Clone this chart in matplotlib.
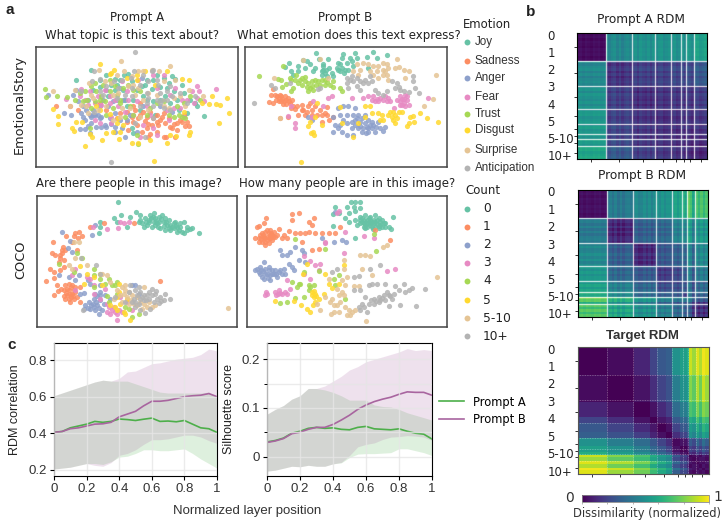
import numpy as np
import matplotlib
matplotlib.use("Agg")
import matplotlib.pyplot as plt

W, H = 727, 527
SET2 = ["#66c2a5", "#fc8d62", "#8da0cb", "#e78ac3", "#a6d854", "#ffd92f", "#e5c494", "#b3b3b3"]
emotions = ["Joy", "Sadness", "Anger", "Fear", "Trust", "Disgust", "Surprise", "Anticipation"]
counts = ["0", "1", "2", "3", "4", "5", "5-10", "10+"]

# embedding coordinates, one list per class
story_a = [
    [(274,212),(228,241),(320,225),(345,238),(372,225),(384,222),(352,255),(368,270),(300,262),(280,270),(425,258),(440,240),(470,225),(490,235),(515,228),(525,238),(505,250),(480,262),(455,268),(520,275),(550,280),(570,300),(590,320),(610,347),(560,340),(535,330),(430,290),(400,300),(460,305),(375,300),(510,310),(495,290),(345,270),(420,330),(395,385),(400,400),(465,345),(335,255),(360,240),(395,245),(410,270),(435,255),(460,240),(500,265),(530,300),(545,255),(585,310),(480,300),(440,300),(380,320),(325,290),(300,240)],
    [(170,318),(212,320),(380,335),(405,330),(430,335),(450,335),(470,345),(490,340),(395,350),(415,355),(435,362),(455,375),(480,360),(495,370),(510,380),(530,370),(545,365),(560,365),(530,390),(515,385),(440,385),(425,395),(410,375),(470,395),(490,410),(450,402),(380,365),(360,340),(420,310),(320,330),(550,345),(475,375),(440,350),(525,410),(565,378),(497,412),(540,360),(400,365),(420,345),(460,355),(485,352),(505,355),(520,372),(555,378),(400,318),(445,372),(470,365),(385,390),(445,410),(350,355),(300,310),(235,330)],
    [(145,285),(193,339),(214,345),(240,388),(255,388),(270,400),(250,350),(270,345),(285,345),(300,355),(315,375),(330,355),(345,380),(320,380),(290,380),(275,370),(260,330),(235,305),(250,318),(300,320),(325,320),(350,300),(370,300),(345,340),(380,360),(375,410),(410,395),(345,395),(305,350),(280,345),(230,270),(220,285),(430,320),(365,385),(340,305),(295,345),(310,300),(255,360),(265,378),(305,380),(335,372),(360,360),(390,345),(280,330),(265,300),(320,270),(360,265),(425,235),(480,320),(515,335),(275,350),(245,340)],
    [(200,298),(245,268),(590,258),(595,275),(647,268),(590,295),(612,305),(580,310),(540,325),(520,325),(500,330),(470,265),(440,320),(410,305),(385,300),(355,320),(330,310),(305,315),(295,290),(315,270),(255,300),(265,315),(285,360),(335,350),(375,335),(460,385),(470,405),(505,360),(550,350),(545,300),(490,225),(415,240),(365,245),(330,290),(240,290),(560,300),(398,345),(345,300),(380,275),(430,375),(450,345),(285,310),(270,275),(525,265),(510,285),(575,275),(460,225),(335,370),(420,410),(300,370)],
    [(136,268),(140,293),(174,289),(203,293),(240,280),(262,300),(250,305),(275,260),(290,275),(310,255),(305,290),(330,275),(350,285),(370,265),(390,320),(360,310),(340,325),(320,345),(275,325),(300,300),(400,270),(420,275),(450,325),(470,310),(530,320),(550,310),(545,350),(555,355),(570,290),(505,345),(400,345),(270,385),(415,432),(360,300),(285,305),(330,240),(600,300),(255,275),(225,300),(315,305),(345,260),(385,255),(440,345),(520,350),(535,345),(375,350),(410,405),(285,250),(490,305)],
    [(302,195),(342,210),(330,222),(255,438),(462,482),(680,294),(684,338),(655,368),(635,290),(627,314),(646,312),(658,316),(160,328),(176,348),(176,373),(218,385),(222,393),(230,365),(248,366),(270,402),(277,410),(308,420),(358,418),(396,428),(414,428),(450,420),(500,430),(508,405),(527,408),(568,395),(565,405),(340,395),(320,400),(350,370),(435,215),(410,225),(380,235),(545,238),(565,240),(355,355),(370,375),(330,342),(290,320),(500,215),(465,255),(550,335),(605,310),(335,220),(410,240),(300,330),(360,395)],
    [(161,274),(362,185),(508,201),(298,210),(268,250),(245,315),(258,320),(280,295),(315,245),(335,250),(372,215),(395,230),(415,265),(445,280),(470,285),(490,320),(400,255),(355,280),(320,320),(295,330),(340,360),(360,350),(390,325),(420,350),(225,270),(210,320),(555,320),(520,295),(607,288),(565,270),(430,215),(455,210),(430,300),(490,245),(525,240),(350,225),(385,260),(275,285),(265,340),(340,285),(365,325),(405,285),(445,330),(505,325),(540,290),(415,215),(478,215)],
    [(406,159),(335,484),(283,215),(278,245),(245,275),(300,238),(320,258),(342,245),(365,240),(392,235),(402,215),(420,255),(440,280),(455,215),(470,240),(485,300),(500,300),(515,290),(490,325),(460,320),(440,310),(420,320),(395,290),(375,285),(350,295),(300,275),(283,335),(540,280),(560,310),(585,290),(510,260),(480,280),(405,370),(460,355),(445,245),(475,255),(460,210),(430,225),(395,265),(470,300),(500,275),(480,310),(445,295),(355,265),(310,285),(510,330),(435,410)],
]
story_b = [
    [(228,160),(148,190),(190,183),(135,203),(175,200),(195,205),(210,195),(238,178),(265,178),(248,195),(250,210),(255,220),(245,225),(262,228),(275,220),(290,205),(300,195),(305,175),(300,215),(312,220),(325,210),(330,175),(345,160),(350,175),(382,172),(398,158),(412,175),(440,168),(310,165),(320,190),(160,225),(155,215),(280,228),(340,200),(385,205),(200,185),(225,205),(295,190),(250,200),(258,212),(245,215),(295,210),(305,205),(315,210),(175,215),(335,185),(218,215),(268,205)],
    [(100,268),(95,285),(88,308),(100,310),(112,290),(122,285),(118,305),(128,298),(130,312),(138,300),(145,295),(150,310),(158,300),(160,320),(170,318),(185,315),(190,330),(205,320),(215,330),(225,320),(240,330),(262,322),(262,345),(268,360),(245,365),(230,345),(120,355),(145,350),(175,345),(195,345),(135,290),(125,305),(165,328),(210,310),(255,340),(140,312),(110,300),(280,350),(118,295),(132,305),(148,305),(105,285),(125,290),(155,325),(185,330),(200,335),(215,345),(245,345)],
    [(205,350),(295,325),(310,320),(325,320),(345,325),(300,345),(320,345),(340,345),(355,345),(375,345),(385,360),(395,365),(415,365),(435,380),(430,392),(405,395),(385,385),(375,370),(365,395),(355,385),(345,375),(335,365),(320,370),(300,375),(285,375),(280,395),(305,395),(320,405),(340,405),(390,375),(370,385),(360,365),(408,380),(378,400),(280,350),(345,360),(215,360),(395,385),(350,355),(365,355),(380,380),(400,375),(385,395),(360,378),(335,385),(310,360),(295,385),(420,385)],
    [(165,370),(165,385),(145,348),(215,350),(265,295),(275,290),(335,295),(370,295),(385,290),(395,300),(405,305),(420,295),(435,290),(450,305),(445,295),(480,290),(495,285),(480,305),(490,310),(500,300),(505,315),(478,315),(462,325),(564,296),(155,320),(250,320),(220,305),(398,290),(410,298),(430,302),(490,298),(500,290),(470,300),(485,298),(495,318),(485,315),(440,305),(415,305)],
    [(57,230),(115,238),(130,200),(125,240),(128,262),(150,235),(155,240),(168,225),(180,240),(185,255),(195,245),(205,250),(210,265),(205,275),(215,258),(225,240),(235,245),(240,255),(255,255),(270,255),(280,245),(300,265),(305,275),(155,275),(160,265),(195,232),(245,240),(260,248),(175,250),(220,272),(140,252),(280,262),(165,240),(185,235),(215,245),(228,255),(200,262),(255,240)],
    [(182,484),(592,365),(213,400),(222,405),(218,395),(205,378),(225,350),(232,310),(245,375),(375,318),(390,320),(355,370),(340,410),(305,370),(415,340),(425,345),(430,360),(445,345),(460,335),(465,345),(475,335),(485,335),(465,370),(455,350),(505,370),(518,347),(510,350),(520,365),(540,340),(560,355),(500,378),(300,322),(375,350),(395,340),(450,335),(470,355),(460,360),(210,365),(420,360)],
    [(102,236),(190,183),(240,178),(122,355),(265,235),(350,195),(370,190),(385,195),(400,200),(415,200),(430,190),(440,195),(430,210),(440,225),(415,235),(400,225),(355,225),(470,180),(475,203),(490,210),(505,215),(495,235),(410,215),(445,240),(445,205),(588,227),(578,298),(550,318),(340,215),(435,215),(428,225),(465,205),(390,215),(360,210)],
    [(44,310),(95,255),(105,265),(150,250),(235,268),(320,235),(335,230),(320,250),(340,245),(360,245),(375,240),(390,230),(370,250),(325,265),(350,260),(405,270),(415,280),(440,275),(455,245),(470,250),(475,262),(490,275),(518,228),(518,243),(525,265),(535,280),(505,278),(480,270),(360,270),(395,245),(330,240),(350,235),(385,250),(430,285),(465,265),(240,265)],
]
coco_a = [
    [(352,95),(300,155),(298,170),(340,145),(362,135),(390,142),(408,125),(420,135),(415,155),(425,160),(435,145),(445,150),(450,135),(460,130),(465,145),(475,140),(485,135),(495,145),(490,155),(505,150),(510,165),(525,155),(520,175),(530,170),(540,170),(550,155),(560,170),(575,175),(595,188),(545,185),(550,190),(470,160),(455,170),(440,165),(430,170),(480,175),(495,180),(510,180),(445,155),(460,155),(475,155),(500,165),(520,160),(350,155),(380,170),(295,190),(465,165),(535,180),(490,168),(560,180),(438,155),(452,145),(468,152),(482,148),(498,155),(515,172),(528,165),(472,170),(458,140),(420,150),(505,175),(540,160),(568,178),(530,185)],
    [(157,215),(198,198),(222,198),(235,185),(245,198),(232,205),(215,215),(188,230),(195,240),(185,250),(155,250),(165,255),(178,265),(190,270),(175,275),(190,290),(149,296),(162,305),(160,322),(138,333),(183,355),(160,374),(172,362),(195,345),(205,340),(215,345),(205,360),(190,360),(200,375),(215,370),(225,365),(230,380),(210,395),(220,385),(195,385),(240,350),(205,385),(220,360),(212,350),(310,160),(400,160),(480,333),(240,395),(230,240),(270,170),(180,300),(198,368),(208,372),(218,378),(200,355),(212,380),(225,350),(192,378),(185,240),(178,255),(170,345),(225,190)],
    [(185,187),(210,212),(284,165),(276,195),(203,235),(215,245),(175,315),(205,320),(237,315),(225,330),(262,330),(270,340),(250,368),(285,370),(300,365),(280,385),(265,395),(255,405),(250,415),(270,415),(285,420),(295,430),(305,420),(290,405),(300,390),(315,375),(330,385),(395,345),(405,345),(240,370),(298,345),(278,400),(310,400),(415,370),(288,395),(272,405),(295,412),(262,412),(282,410),(300,375),(290,378)],
    [(278,170),(320,178),(352,175),(358,155),(372,160),(385,155),(225,295),(215,315),(270,325),(280,370),(320,425),(330,432),(345,425),(355,420),(350,450),(340,410),(320,400),(300,385),(315,355),(225,360),(358,380),(380,395),(395,420),(280,345),(260,320),(335,418),(350,430),(325,410),(365,425)],
    [(175,280),(230,250),(280,295),(280,315),(325,325),(345,345),(320,378),(325,395),(350,370),(375,410),(395,440),(415,432),(350,335),(300,325),(245,265),(220,305),(280,350),(335,345),(315,340),(385,415)],
    [(240,288),(250,342),(280,320),(305,345),(355,340),(350,380),(345,410),(360,400),(375,430),(390,449),(328,405),(355,365),(300,310),(260,310),(380,385),(350,418),(370,425)],
    [(682,412),(235,215),(222,215),(225,265),(207,285),(215,295),(260,285),(305,310),(320,315),(330,335),(350,360),(365,350),(375,345),(385,365),(370,370),(380,380),(365,395),(385,400),(400,400),(420,395),(430,350),(440,410),(455,410),(465,405),(340,385),(425,415),(395,375),(410,380),(445,395),(360,375),(375,358),(392,390),(410,405),(430,400)],
    [(243,265),(287,283),(300,310),(247,418),(345,380),(390,345),(405,360),(415,350),(420,365),(430,375),(445,365),(455,355),(465,370),(470,385),(480,380),(495,372),(510,385),(490,390),(475,398),(460,395),(445,385),(430,390),(415,400),(405,410),(400,385),(395,395),(435,428),(420,420),(450,415),(440,375),(425,380),(410,375),(385,365),(375,395),(455,375),(468,362),(438,388),(420,385),(405,395),(483,392)],
]
coco_b = [
    [(332,96),(345,96),(358,96),(320,110),(285,112),(278,132),(295,130),(325,128),(345,122),(360,115),(315,143),(325,155),(345,150),(350,165),(360,140),(375,135),(390,140),(405,135),(415,145),(360,150),(370,150),(380,150),(390,150),(400,150),(410,150),(420,155),(430,160),(360,160),(370,160),(380,160),(390,160),(400,160),(410,162),(420,165),(435,170),(370,170),(380,172),(395,170),(405,172),(415,175),(445,170),(458,142),(452,178),(345,203),(278,168),(340,110),(385,145),(375,165),(425,150),(398,178),(365,145),(385,155),(395,155),(405,157),(415,168),(375,175),(365,155),(390,165),(425,170),(435,160)],
    [(50,170),(57,168),(72,160),(78,143),(45,203),(55,205),(60,195),(65,190),(70,200),(75,185),(80,180),(85,190),(90,180),(95,195),(100,185),(105,200),(95,210),(85,205),(75,215),(65,215),(55,215),(75,225),(85,220),(70,205),(80,200),(90,205),(115,178),(145,182),(155,133),(155,150),(176,130),(165,190),(180,190),(195,190),(205,157),(220,145),(215,165),(205,185),(225,190),(245,190),(265,190),(285,190),(125,205),(140,205),(185,215),(215,240),(235,238),(300,170),(450,210),(405,180),(62,208),(80,210),(98,200),(88,195),(92,188),(68,195),(110,195),(130,195)],
    [(70,275),(50,295),(45,300),(60,290),(75,295),(85,290),(95,300),(105,300),(115,305),(125,310),(60,310),(65,320),(80,310),(90,315),(100,310),(70,325),(90,328),(55,305),(110,320),(120,240),(125,255),(140,255),(150,245),(165,230),(185,240),(190,250),(175,270),(145,280),(155,290),(135,310),(160,300),(245,205),(280,215),(318,215),(305,210),(285,125),(85,300),(75,310),(130,295),(195,275),(68,302),(95,310),(82,322),(108,312),(62,298),(120,298)],
    [(297,123),(290,130),(255,218),(310,248),(78,365),(75,375),(105,365),(115,358),(112,372),(125,372),(135,365),(148,357),(140,372),(190,258),(208,272),(225,285),(240,282),(190,310),(210,325),(140,328),(255,215),(440,302),(465,296),(370,198),(400,205),(315,185),(235,300),(80,370),(108,375),(120,368)],
    [(163,207),(255,238),(407,244),(400,192),(235,302),(192,305),(297,315),(280,325),(220,345),(205,345),(180,340),(170,350),(155,335),(165,382),(120,397),(140,396),(205,360),(315,385),(285,345),(190,380),(175,342),(210,350)],
    [(105,391),(183,405),(162,392),(200,282),(188,310),(253,312),(310,283),(265,340),(275,352),(220,362),(215,375),(225,370),(235,385),(250,370),(225,395),(218,405),(210,424),(200,417),(295,340),(222,380),(215,365),(228,378)],
    [(590,320),(440,225),(428,232),(358,255),(375,255),(390,258),(312,270),(310,295),(365,297),(395,315),(340,348),(355,348),(320,320),(305,330),(315,345),(265,325),(290,355),(295,375),(275,385),(270,395),(300,395),(290,405),(315,410),(280,425),(272,432),(295,425),(325,420),(330,435),(345,420),(377,452),(240,420),(230,400),(320,435),(335,425),(305,365),(280,405),(255,380),(310,375)],
    [(420,283),(388,295),(340,320),(355,318),(290,295),(275,305),(340,360),(360,360),(375,380),(385,345),(410,340),(435,340),(465,348),(490,340),(515,352),(555,355),(527,406),(478,403),(445,407),(415,395),(400,385),(415,380),(430,375),(445,375),(460,370),(455,385),(435,390),(420,390),(400,400),(385,400),(365,400),(355,410),(360,420),(380,425),(495,365),(505,360),(475,360),(395,340),(440,365),(450,378),(425,383),(408,392),(392,390),(370,410)],
]
panel_points = [story_a, story_b, coco_a, coco_b]
# x and y range of each embedding
panel_limits = [((110, 712), (500, 143)), ((16, 620), (500, 143)), ((110, 710), (470, 78)), ((20, 620), (470, 78))]
scatter_boxes = [(36, 47, 238, 167), (245, 47, 447, 167), (37, 196, 237, 327), (247, 196, 447, 327)]

layers = np.arange(0, 1.01, 0.05)
corr_a = [.405,.41,.43,.44,.45,.465,.46,.465,.478,.475,.47,.477,.483,.465,.467,.463,.47,.45,.43,.425,.405]
corr_b = [.405,.41,.425,.43,.44,.45,.452,.46,.49,.505,.52,.55,.575,.575,.58,.59,.60,.605,.608,.617,.60]
corr_a_hi = [.605,.62,.635,.65,.665,.68,.69,.685,.685,.685,.67,.655,.64,.625,.62,.62,.62,.62,.62,.625,.60]
corr_a_lo = [.205,.21,.215,.225,.235,.235,.23,.245,.27,.275,.29,.31,.31,.305,.305,.31,.315,.29,.26,.235,.21]
corr_b_hi = [.605,.62,.635,.65,.665,.68,.69,.685,.70,.735,.74,.76,.78,.785,.795,.805,.81,.815,.83,.86,.85]
corr_b_lo = [.205,.21,.215,.225,.235,.225,.22,.24,.28,.29,.31,.34,.365,.365,.37,.38,.39,.39,.38,.36,.345]
sil_a = [.03,.033,.038,.048,.052,.058,.06,.058,.059,.056,.055,.06,.062,.057,.056,.055,.057,.052,.048,.046,.036]
sil_b = [.029,.032,.037,.047,.05,.056,.06,.06,.066,.075,.085,.097,.106,.113,.118,.122,.128,.133,.132,.132,.126]
sil_a_hi = [.087,.097,.105,.118,.125,.14,.14,.137,.132,.125,.116,.116,.116,.106,.103,.102,.097,.09,.085,.08,.075]
sil_a_lo = [-.03,-.028,-.024,-.02,-.021,-.018,-.02,-.02,-.015,-.013,-.002,.005,.006,.006,.007,.008,.016,.016,.012,.008,.002]
sil_b_hi = [.087,.097,.105,.118,.125,.14,.14,.145,.155,.165,.178,.185,.195,.20,.205,.21,.215,.222,.218,.22,.218]
sil_b_lo = [-.03,-.028,-.024,-.02,-.021,-.018,-.02,-.02,-.015,-.012,.002,.02,.025,.028,.035,.04,.041,.043,.042,.04,.033]

# RDM cells: cells per class, class-by-class dissimilarity, per-item stripes
class_sizes = [11, 10, 9, 6, 4, 2, 3, 5]
rdm_a = [
    [.03,.46,.50,.50,.50,.50,.52,.56],
    [.46,.14,.18,.18,.20,.20,.22,.27],
    [.50,.18,.13,.14,.15,.15,.16,.18],
    [.52,.18,.14,.12,.13,.14,.14,.15],
    [.53,.20,.15,.13,.12,.13,.13,.14],
    [.53,.20,.15,.14,.13,.12,.13,.13],
    [.55,.22,.16,.14,.13,.13,.12,.12],
    [.58,.27,.18,.15,.14,.13,.12,.10],
]
rdm_b = [
    [.04,.40,.47,.50,.56,.60,.64,.70],
    [.40,.10,.30,.32,.42,.45,.47,.52],
    [.47,.30,.12,.27,.30,.33,.38,.47],
    [.52,.32,.27,.16,.20,.28,.32,.40],
    [.56,.42,.32,.22,.22,.26,.28,.33],
    [.62,.48,.35,.30,.28,.20,.30,.32],
    [.68,.55,.45,.35,.30,.32,.26,.20],
    [.72,.58,.50,.42,.33,.30,.20,.14],
]
stripes_a = [0,.01,-.01,.01,0,-.01,.01,0,.01,-.01,0,.03,-.02,.02,.04,-.02,.03,-.03,.01,.03,0,
             -.02,.02,-.03,.03,0,-.02,.02,-.03,.02,-.02,.02,.03,-.02,0,.02,-.03,.03,-.02,0,
             .02,-.02,.03,0,-.03,.02,.02,-.02,0,.02]
stripes_b = [0,.01,-.01,.01,0,-.01,.01,0,.01,-.01,0,-.03,.03,-.02,.04,-.03,.03,-.03,.02,.03,0,
             -.03,.02,-.03,-.02,.03,-.02,.03,-.03,.02,.02,-.02,.03,-.02,.02,.02,-.03,.03,-.02,.03,
             .02,-.02,.12,.07,-.06,.02,-.04,.03,-.04,.02]
target_edges = [0,22,43,55,60,67,72,78,83,85,87,90,92,95,97,100]
target_rdm = [
    [0,.03,.10,.20,.27,.30,.50,.56,.62,.92,.85,.95,.88,.98,.95],
    [.03,0,.05,.13,.20,.25,.42,.50,.55,.82,.75,.88,.78,.92,.85],
    [.10,.05,0,.05,.12,.18,.35,.42,.48,.72,.68,.80,.70,.82,.78],
    [.20,.13,.05,0,.06,.10,.27,.33,.40,.62,.58,.70,.60,.72,.68],
    [.27,.20,.12,.06,0,.04,.20,.27,.33,.55,.50,.62,.52,.65,.60],
    [.30,.25,.18,.10,.04,0,.13,.20,.27,.50,.45,.55,.47,.58,.53],
    [.50,.42,.35,.27,.20,.13,.02,.05,.10,.28,.22,.33,.25,.36,.30],
    [.56,.50,.42,.33,.27,.20,.05,.01,.05,.20,.16,.25,.18,.28,.22],
    [.62,.55,.48,.40,.33,.27,.10,.05,.01,.14,.10,.18,.12,.20,.16],
    [.92,.82,.72,.62,.55,.50,.28,.20,.14,.01,.03,.06,.02,.08,.04],
    [.85,.75,.68,.58,.50,.45,.22,.16,.10,.03,.01,.03,.05,.05,.02],
    [.95,.88,.80,.70,.62,.55,.33,.25,.18,.06,.03,.01,.04,.03,.06],
    [.88,.78,.70,.60,.52,.47,.25,.18,.12,.02,.05,.04,.01,.06,.03],
    [.98,.92,.82,.72,.65,.58,.36,.28,.20,.08,.05,.03,.06,.01,.05],
    [.95,.85,.78,.68,.60,.53,.30,.22,.16,.04,.02,.06,.03,.05,.01],
]
rdm_boxes = [(577, 33, 707, 159), (578, 190, 708, 317), (578, 347, 709, 474)]
rdm_titles = ["Prompt A RDM", "Prompt B RDM", "Target RDM"]


def px_axes(fig, box):
    x0, y0, x1, y1 = box
    return fig.add_axes([x0 / W, 1 - y1 / H, (x1 - x0) / W, (y1 - y0) / H])


def px_text(fig, x, y, s, **kw):
    kw.setdefault("va", "center")
    return fig.text(x / W, 1 - y / H, s, **kw)


def expand_rdm(blocks, stripes):
    owner = np.repeat(np.arange(len(class_sizes)), class_sizes)
    off = np.array(stripes)
    return np.array(blocks)[np.ix_(owner, owner)] + off[:, None] + off[None, :]


def draw_rdm(ax, cells, line_alpha=0.7):
    n = cells.shape[0]
    ax.imshow(cells, cmap="viridis", vmin=0, vmax=1, aspect="auto", interpolation="nearest", extent=(0, n, n, 0))
    edges = np.cumsum(class_sizes)
    for e in edges[:-1]:
        ax.axvline(e, color="white", lw=1, alpha=line_alpha)
        ax.axhline(e, color="white", lw=1, alpha=line_alpha)
    centers = edges - np.array(class_sizes) / 2
    ax.set_xticks(centers, [])
    ax.set_yticks(centers, [])
    ax.tick_params(length=2, width=0.7, color="#333333")


def draw_curves(ax, mean_a, mean_b, lo_a, hi_a, lo_b, hi_b):
    ax.fill_between(layers, lo_a, hi_a, color="#4daf4a", alpha=0.18, lw=0)
    ax.fill_between(layers, lo_b, hi_b, color="#a65c9f", alpha=0.18, lw=0)
    ax.grid(True, color="#e6e6e6", lw=1, alpha=0.8)
    ax.set_axisbelow(False)
    ax.plot(layers, mean_a, color="#4daf4a", lw=1.2, label="Prompt A")
    ax.plot(layers, mean_b, color="#a8659f", lw=1.2, label="Prompt B")
    ax.set_xlim(0, 1)
    ax.set_xticks([0, .2, .4, .6, .8, 1], ["0", "0.2", "0.4", "0.6", "0.8", "1"])
    ax.tick_params(labelsize=9.5, length=3, width=0.8, pad=2, labelcolor="#333333")
    for label in ax.get_xticklabels():
        label.set_family("Liberation Sans")


fig = plt.figure(figsize=(W / 100, H / 100), dpi=100)

# embeddings
for box, pts, (xl, yl) in zip(scatter_boxes, panel_points, panel_limits):
    ax = px_axes(fig, box)
    for cls, color in zip(pts, SET2):
        xy = np.array(cls)
        ax.scatter(xy[:, 0], xy[:, 1], s=14, color=color, alpha=0.85, lw=0)
    ax.set_xlim(*xl)
    ax.set_ylim(*yl)
    ax.set_xticks([])
    ax.set_yticks([])
    for sp in ax.spines.values():
        sp.set_color("#444444")
        sp.set_linewidth(1.1)

px_text(fig, 137, 17, "Prompt A", ha="center", fontsize=8.5, color="#222222")
px_text(fig, 345, 17, "Prompt B", ha="center", fontsize=8.5, color="#222222")
px_text(fig, 132, 36, "What topic is this text about?", ha="center", fontsize=8.5, color="#222222")
px_text(fig, 349, 36, "What emotion does this text express?", ha="center", fontsize=8.5, color="#222222")
px_text(fig, 129, 184, "Are there people in this image?", ha="center", fontsize=8.5, color="#222222")
px_text(fig, 347, 184, "How many people are in this image?", ha="center", fontsize=8.5, color="#222222")
px_text(fig, 19, 105, "EmotionalStory", rotation=90, ha="center", fontsize=9.3, color="#222222")
px_text(fig, 21, 260, "COCO", rotation=90, ha="center", fontsize=9.3, color="#222222")

# hand-placed class keys
legend_ax = fig.add_axes([0, 0, 1, 1], facecolor="none")
legend_ax.set_xlim(0, W)
legend_ax.set_ylim(H, 0)
legend_ax.axis("off")
px_text(fig, 463, 24, "Emotion", fontsize=8.4, color="#222222")
emotion_rows = [42, 60.5, 78, 96.5, 114, 130, 149.5, 168]
for name, y, color in zip(emotions, emotion_rows, SET2):
    legend_ax.scatter([467], [y], s=18, color=color, lw=0)
    px_text(fig, 475, y, name, fontsize=8.4, family="Liberation Sans", color="#333333")
px_text(fig, 465, 191, "Count", fontsize=8.5, color="#222222")
count_rows = [209, 227, 245, 263, 281, 300, 318, 336]
for name, y, color in zip(counts, count_rows, SET2):
    legend_ax.scatter([467], [y], s=18, color=color, lw=0)
    px_text(fig, 483, y, name, fontsize=8.8, color="#222222")

# layer curves
ax_corr = px_axes(fig, (54, 343, 217, 476))
draw_curves(ax_corr, corr_a, corr_b, corr_a_lo, corr_a_hi, corr_b_lo, corr_b_hi)
ax_corr.set_ylim(0.167, 0.893)
ax_corr.set_yticks([.2, .4, .6, .8], ["0.2", "0.4", "0.6", "0.8"])
for label in ax_corr.get_yticklabels():
    label.set_family("Liberation Sans")
ax_corr.set_ylabel("RDM correlation", fontsize=9, family="Liberation Sans", color="#222222")
ax_corr.yaxis.set_label_coords((21 - 54) / 163, 0.5)

ax_sil = px_axes(fig, (267, 343, 432, 476))
draw_curves(ax_sil, sil_a, sil_b, sil_a_lo, sil_a_hi, sil_b_lo, sil_b_hi)
ax_sil.set_ylim(-0.04, 0.2335)
ax_sil.set_yticks([0, .1, .2], ["0", "0.1", "0.2"])
ax_sil.set_yticks([.05, .15], minor=True)
ax_sil.grid(True, which="minor", axis="y", color="#e6e6e6", lw=1, alpha=0.8)
ax_sil.tick_params(which="minor", length=2, width=0.7)
for label in ax_sil.get_yticklabels():
    label.set_family("Liberation Sans")
ax_sil.set_ylabel("Silhouette score", fontsize=9, family="Liberation Sans", color="#222222")
ax_sil.yaxis.set_label_coords((235 - 267) / 165, 0.5)

px_text(fig, 247, 511, "Normalized layer position", ha="center", fontsize=9.5, family="Liberation Sans", color="#333333")
ax_sil.legend(loc="center left", bbox_to_anchor=(1.042, 0.49), frameon=False, fontsize=8.3, handlelength=2.17,
              handletextpad=0.78, labelspacing=0.4, borderpad=0, borderaxespad=0)

# dissimilarity matrices
ax_ra = px_axes(fig, rdm_boxes[0])
draw_rdm(ax_ra, expand_rdm(rdm_a, stripes_a))
ax_rb = px_axes(fig, rdm_boxes[1])
draw_rdm(ax_rb, expand_rdm(rdm_b, stripes_b))

ax_t = px_axes(fig, rdm_boxes[2])
xe = np.array(target_edges) / 2
mesh = ax_t.pcolormesh(xe, xe, np.array(target_rdm), cmap="viridis", vmin=0, vmax=1)
ax_t.set_xlim(0, 50)
ax_t.set_ylim(50, 0)
cell_edges = np.cumsum(class_sizes)
for e in cell_edges[:-1]:
    ax_t.axvline(e, color="white", lw=0.6, ls=(0, (1, 1)), alpha=0.4)
    ax_t.axhline(e, color="white", lw=0.6, ls=(0, (1, 1)), alpha=0.4)
centers = cell_edges - np.array(class_sizes) / 2
ax_t.set_xticks(centers, [])
ax_t.set_yticks(centers, [])
ax_t.tick_params(length=2, width=0.7, color="#333333")
for sp in ax_t.spines.values():
    sp.set_color("#555555")

for box, title in zip(rdm_boxes, rdm_titles):
    cx = (box[0] + box[2]) / 2 - 1
    if title == "Target RDM":
        px_text(fig, cx, box[1] - 11, title, ha="center", fontsize=9.5, family="Liberation Sans", weight="bold", color="#333333")
    else:
        px_text(fig, cx, box[1] - 14, title, ha="center", fontsize=8.7, color="#222222")
    # class names sit evenly down the side, not at the tick positions
    rows = np.linspace(box[1] + 3, box[3] - 2, 8)
    for name, y in zip(counts, rows):
        px_text(fig, 547.5, y, name, fontsize=8.5, color="#222222")

# colour bar
cax = px_axes(fig, (582, 495, 709, 502))
cb = fig.colorbar(mesh, cax=cax, orientation="horizontal")
cb.set_ticks([0, .2, .4, .6, .8, 1], labels=[])
cb.ax.tick_params(length=1.5, width=0.5, color="#999999")
cb.outline.set_edgecolor("#888888")
cb.outline.set_linewidth(0.6)
px_text(fig, 570, 498, "0", ha="center", fontsize=10, color="#333333")
px_text(fig, 718, 497, "1", ha="center", fontsize=10, color="#333333")
px_text(fig, 647, 514, "Dissimilarity (normalized)", ha="center", fontsize=8.3, color="#333333")

# panel letters
for x, y, s in [(10, 10, "a"), (531, 12, "b"), (12, 345, "c")]:
    px_text(fig, x, y, s, ha="center", fontsize=11, weight="bold", family="Liberation Sans", color="#222222")

fig.savefig("out.png", dpi=100)
